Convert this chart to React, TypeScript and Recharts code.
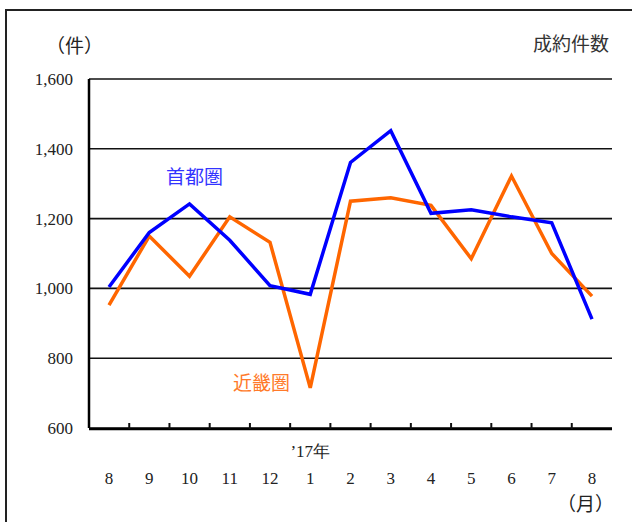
import { LineChart, Line, XAxis, YAxis, CartesianGrid } from "recharts";

// 月次の成約件数（首都圏・近畿圏）
const months = ["8", "9", "10", "11", "12", "1", "2", "3", "4", "5", "6", "7", "8"];
const yearTags = ["", "", "", "", "", "’17年", "", "", "", "", "", "", ""];
const shutoken = [1004, 1160, 1242, 1138, 1008, 983, 1361, 1452, 1215, 1225, 1205, 1188, 912];
const kinki = [952, 1150, 1035, 1205, 1132, 715, 1250, 1260, 1238, 1085, 1322, 1100, 978];
const yTicks = [600, 800, 1000, 1200, 1400, 1600];
const boundaryTicks = [1, 2, 3, 4, 5, 6, 7, 8, 9, 10, 11, 12];

const data = months.map((m, i) => ({
  month: m,
  slot: i + 0.5, // 各月の区間の中央（目盛りは区間の境目に付ける）
  shutoken: shutoken[i],
  kinki: kinki[i],
}));

const SERIF = '"Liberation Serif", "DejaVu Serif", serif';
const JP = '"Noto Sans CJK JP", sans-serif';

const MonthTick = (props: any) => {
  const { x, y, index, payload } = props;
  const tag = yearTags[index];
  return (
    <g>
      {tag && (
        <text x={x} y={y - 27} dy="0.71em" textAnchor="middle" fontSize={17} fontFamily={SERIF} fill="#222">
          {tag}
        </text>
      )}
      <text x={x} y={y} dy="0.71em" textAnchor="middle" fontSize={17} fontFamily={SERIF} fill="#222">
        {payload.value}
      </text>
    </g>
  );
};

const ValueTick = (props: any) => {
  const { x, y, payload } = props;
  return (
    <text x={x} y={y} dy="0.355em" textAnchor="end" fontSize={17} fontFamily={SERIF} fill="#222">
      {Number(payload.value).toLocaleString("en-US")}
    </text>
  );
};

// 目盛り線だけを描き、ラベルは出さない
const NoLabel = () => <g />;

const label = (text: string, left: number, top: number, color: string, font = JP, size = 19) => (
  <div
    style={{
      position: "absolute",
      left,
      top,
      fontFamily: font,
      fontSize: size,
      color,
      lineHeight: 1,
      whiteSpace: "nowrap",
    }}
  >
    {text}
  </div>
);

export default function App() {
  return (
    <div
      style={{
        position: "absolute",
        left: 0,
        top: 0,
        width: 632,
        height: 522,
        overflow: "hidden",
        background: "#fff",
      }}
    >
      <div
        style={{
          position: "absolute",
          left: 5,
          top: 9,
          width: 660,
          height: 560,
          border: "2px solid #222",
        }}
      />
      <LineChart
        width={632}
        height={522}
        data={data}
        margin={{ top: 79, right: 20, left: 9, bottom: 92 }}
        style={{ position: "absolute", left: 0, top: 0 }}
      >
        <CartesianGrid vertical={false} stroke="#111" strokeWidth={1.6} />
        <XAxis
          xAxisId="ticks"
          dataKey="slot"
          type="number"
          domain={[0, months.length]}
          ticks={boundaryTicks}
          allowDataOverflow
          height={1}
          tick={<NoLabel />}
          tickSize={-6}
          tickLine={{ stroke: "#111", strokeWidth: 2 }}
          axisLine={{ stroke: "#000", strokeWidth: 2.5 }}
        />
        <XAxis
          dataKey="month"
          height={1}
          padding={{ left: 20, right: 20 }}
          axisLine={false}
          tickLine={false}
          tickSize={0}
          tickMargin={44}
          interval={0}
          tick={<MonthTick />}
        />
        <YAxis
          width={80}
          domain={[600, 1600]}
          ticks={yTicks}
          tickSize={0}
          tickMargin={16}
          tickLine={false}
          axisLine={{ stroke: "#000", strokeWidth: 2.5 }}
          tick={<ValueTick />}
        />
        <YAxis
          yAxisId="frame"
          orientation="right"
          width={0}
          domain={[600, 1600]}
          tick={false}
          tickLine={false}
          axisLine={{ stroke: "#000", strokeWidth: 2.5 }}
        />
        <Line
          dataKey="kinki"
          stroke="#ff6600"
          strokeWidth={3.5}
          dot={false}
          isAnimationActive={false}
        />
        <Line
          dataKey="shutoken"
          stroke="#0000ff"
          strokeWidth={3.5}
          dot={false}
          isAnimationActive={false}
        />
      </LineChart>
      {label("（件）", 46, 35, "#222")}
      {label("成約件数", 533, 33, "#333")}
      {label("首都圏", 166, 166, "#3333ff")}
      {label("近畿圏", 233, 372, "#ff7a2a")}
      {label("（月）", 557, 493, "#222")}
    </div>
  );
}
